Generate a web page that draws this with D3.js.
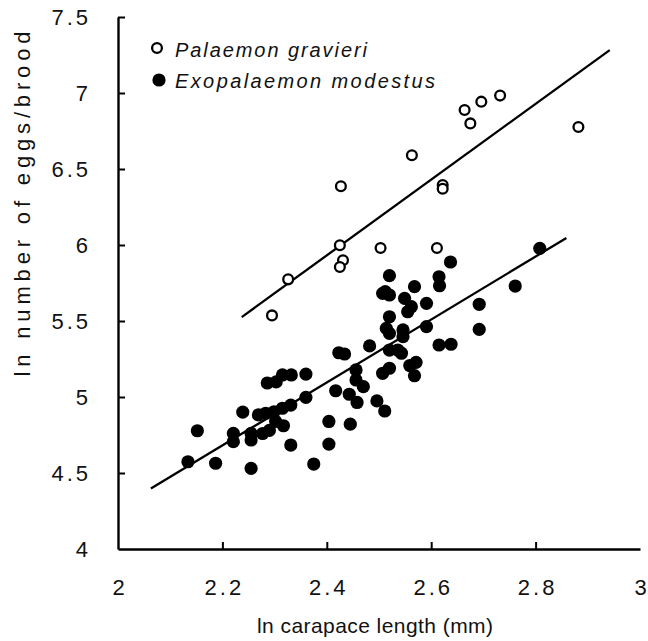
<!DOCTYPE html>
<html>
<head>
<meta charset="utf-8">
<script src="https://cdn.jsdelivr.net/npm/d3@7"></script>
<style>
  body { margin: 0; background: #fff; }
  svg { display: block; font-family: "Liberation Sans", Arial, sans-serif; }
</style>
</head>
<body>
<svg width="648" height="641"></svg>
<script>
// Palaemon gravieri (open circles): [ln CL, ln eggs]
const gravieri = [
  [2.664, 6.888], [2.675, 6.80], [2.696, 6.943], [2.732, 6.983], [2.882, 6.776],
  [2.563, 6.59], [2.622, 6.394], [2.622, 6.37], [2.427, 6.387], [2.425, 5.998],
  [2.431, 5.90], [2.425, 5.855], [2.326, 5.774], [2.295, 5.537], [2.503, 5.98],
  [2.611, 5.98]
];

// Exopalaemon modestus (filled dots)
const modestus = [
  [2.134, 4.574], [2.152, 4.778], [2.187, 4.564], [2.255, 4.530], [2.239, 4.901],
  [2.221, 4.761], [2.221, 4.706], [2.255, 4.761], [2.255, 4.717], [2.269, 4.882],
  [2.283, 4.893], [2.290, 4.780], [2.277, 4.760], [2.302, 4.840], [2.299, 4.903],
  [2.315, 4.926], [2.331, 4.947], [2.331, 4.684], [2.317, 4.811], [2.360, 4.998],
  [2.375, 4.559], [2.404, 4.839], [2.404, 4.690], [2.417, 5.041], [2.445, 4.821],
  [2.443, 5.018], [2.458, 4.964], [2.286, 5.092], [2.303, 5.099], [2.315, 5.145],
  [2.332, 5.145], [2.360, 5.151], [2.423, 5.291], [2.434, 5.283], [2.482, 5.336],
  [2.456, 5.178], [2.456, 5.112], [2.470, 5.068], [2.496, 4.974], [2.511, 4.908],
  [2.507, 5.156], [2.520, 5.189], [2.520, 5.309], [2.536, 5.309], [2.543, 5.288],
  [2.559, 5.207], [2.571, 5.228], [2.568, 5.140], [2.520, 5.798], [2.512, 5.693],
  [2.520, 5.671], [2.507, 5.682], [2.568, 5.726], [2.549, 5.649], [2.562, 5.594],
  [2.555, 5.561], [2.591, 5.616], [2.520, 5.528], [2.514, 5.452], [2.520, 5.419],
  [2.546, 5.441], [2.546, 5.397], [2.591, 5.463], [2.637, 5.888], [2.615, 5.791],
  [2.616, 5.732], [2.692, 5.610], [2.761, 5.730], [2.808, 5.978], [2.692, 5.445],
  [2.615, 5.342], [2.638, 5.347]
];

// regression lines: x range, slope, intercept
const fitGravieri = { x0: 2.237, x1: 2.942, slope: 2.492, intercept: -0.049 };
const fitModestus = { x0: 2.063, x1: 2.859, slope: 2.070, intercept: 0.128 };

const xTicks = [2, 2.2, 2.4, 2.6, 2.8, 3];
const yTicks = [4, 4.5, 5, 5.5, 6, 6.5, 7, 7.5];

const svg = d3.select("svg");
const margin = { left: 118, right: 8, top: 17, bottom: 92 };
const W = 648, H = 641;

const x = d3.scaleLinear().domain([2, 3]).range([margin.left, W - margin.right]);
const y = d3.scaleLinear().domain([4, 7.5]).range([H - margin.bottom, margin.top]);

// axes with inward ticks
const xAxis = svg.append("g")
    .attr("transform", `translate(0,${y(4)})`)
    .call(d3.axisBottom(x).tickValues(xTicks).tickSizeInner(-7).tickSizeOuter(0)
        .tickPadding(30).tickFormat(d3.format("")));
const yAxis = svg.append("g")
    .attr("transform", `translate(${x(2)},0)`)
    .call(d3.axisLeft(y).tickValues(yTicks).tickSizeInner(-7).tickSizeOuter(0)
        .tickPadding(27).tickFormat(d3.format("")));

[xAxis, yAxis].forEach(g => {
  g.select(".domain").attr("stroke", "#000").attr("stroke-width", 2.4);
  g.selectAll(".tick line").attr("stroke", "#000").attr("stroke-width", 2);
  g.selectAll(".tick text").attr("fill", "#111").style("font-size", "22px")
    .style("letter-spacing", d => String(d).length > 1 ? "3px" : "0px")
    .style("font-family", "Liberation Sans, Arial, sans-serif");
});
xAxis.selectAll(".tick text").attr("dx", d => String(d).length > 1 ? "1.5px" : "0px");
yAxis.selectAll(".tick text").attr("dx", d => String(d).length > 1 ? "0px" : "-3px");
// no tick marks at the corner / right end
xAxis.selectAll(".tick").filter(d => d === 2 || d === 3).select("line").remove();
yAxis.selectAll(".tick").filter(d => d === 4).select("line").remove();

// axis titles
svg.append("text")
    .attr("x", 375).attr("y", 633)
    .attr("text-anchor", "middle")
    .attr("textLength", 236).attr("lengthAdjust", "spacing")
    .style("font-size", "21px").attr("fill", "#111")
    .text("ln carapace length (mm)");
svg.append("text")
    .attr("transform", "translate(30,204) rotate(-90)")
    .attr("text-anchor", "middle")
    .attr("textLength", 345).attr("lengthAdjust", "spacing")
    .style("font-size", "22px").attr("fill", "#111")
    .text("ln number of eggs/brood");

// regression lines
const line = d3.line().x(d => x(d[0])).y(d => y(d[1]));
[fitGravieri, fitModestus].forEach(f => {
  svg.append("path")
      .datum([[f.x0, f.slope * f.x0 + f.intercept], [f.x1, f.slope * f.x1 + f.intercept]])
      .attr("d", line)
      .attr("fill", "none").attr("stroke", "#000").attr("stroke-width", 2.3);
});

// points
svg.append("g").selectAll("circle").data(modestus).join("circle")
    .attr("cx", d => x(d[0])).attr("cy", d => y(d[1])).attr("r", 6.6)
    .attr("fill", "#000");
svg.append("g").selectAll("circle").data(gravieri).join("circle")
    .attr("cx", d => x(d[0])).attr("cy", d => y(d[1])).attr("r", 4.9)
    .attr("fill", "#fff").attr("stroke", "#000").attr("stroke-width", 2.3);

// legend
const legend = svg.append("g");
legend.append("circle").attr("cx", 157).attr("cy", 48).attr("r", 4.9)
    .attr("fill", "#fff").attr("stroke", "#000").attr("stroke-width", 2.3);
legend.append("circle").attr("cx", 159).attr("cy", 80).attr("r", 6.6).attr("fill", "#000");
legend.append("text").attr("x", 175).attr("y", 57)
    .attr("textLength", 192).attr("lengthAdjust", "spacing")
    .style("font-size", "20px").style("font-style", "italic").attr("fill", "#111")
    .text("Palaemon gravieri");
legend.append("text").attr("x", 175).attr("y", 88)
    .attr("textLength", 260).attr("lengthAdjust", "spacing")
    .style("font-size", "20px").style("font-style", "italic").attr("fill", "#111")
    .text("Exopalaemon modestus");
</script>
</body>
</html>
